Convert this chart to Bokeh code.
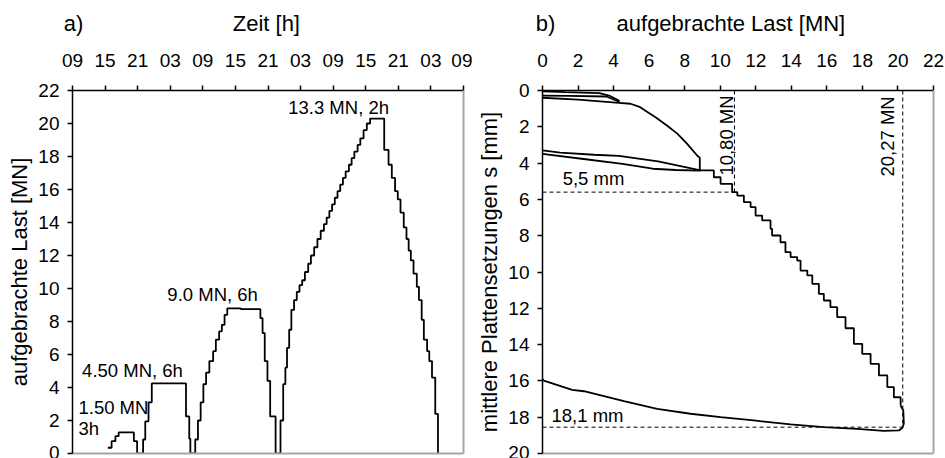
import math
from bokeh.plotting import figure
from bokeh.models import Range1d, FixedTicker, Label, LinearAxis
from bokeh.layouts import row
from bokeh.embed import file_html
from bokeh.resources import INLINE

# ---------------- data: panel a (load vs. time) ----------------
time_ticks = [0, 6, 12, 18, 24, 30, 36, 42, 48, 54, 60, 66, 72]
time_tick_labels = ["09", "15", "21", "03", "09", "15", "21", "03", "09", "15", "21", "03", "09"]

# stepped load history: time [h] at which load changes, new load [MN]
time_h = [6.5, 7.2, 7.9, 8.5, 11.3, 11.9,
          13.0, 13.4, 14.0, 14.6, 20.9, 21.5, 21.7,
          22.6, 23.1, 23.6, 24.1, 24.6, 25.2, 25.9, 26.4, 27.0, 27.5, 28.0, 28.5,
          31.0, 34.6, 35.0, 35.4, 35.9, 36.4, 37.4,
          38.3, 38.8, 39.2, 39.5, 39.9, 40.3, 40.8, 41.3, 41.8, 42.3, 42.8, 43.4,
          43.9, 44.5, 45.1, 45.7, 46.3, 46.8, 47.3, 47.8, 48.3, 48.8, 49.3, 49.8,
          50.3, 50.9, 51.4, 51.9, 52.5, 53.0, 53.6, 54.2, 54.8,
          57.4, 58.2, 58.8, 59.4, 59.9, 60.4, 61.0, 61.5, 61.9, 62.3, 62.8, 63.4,
          63.8, 64.3, 64.7, 65.3, 65.7, 66.2, 66.8, 67.3]
load_mn = [0.35, 0.75, 1.05, 1.28, 0.75, 0.0,
           0.85, 1.95, 3.1, 4.25, 2.25, 0.9, 0.0,
           0.85, 2.0, 3.1, 4.2, 4.9, 5.6, 6.2, 6.9, 7.4, 7.8, 8.4, 8.8,
           8.75, 8.2, 7.3, 5.6, 4.4, 2.25, 0.0,
           2.0, 4.2, 5.2, 6.4, 7.5, 8.7, 9.3, 9.8, 10.2, 10.5, 11.0, 11.5,
           12.0, 12.5, 13.0, 13.5, 13.9, 14.3, 14.7, 15.1, 15.5, 15.9, 16.3, 16.7,
           17.1, 17.5, 17.9, 18.3, 18.7, 19.1, 19.6, 20.0, 20.3,
           18.4, 17.5, 16.7, 15.9, 15.4, 14.6, 13.7, 13.0, 12.3, 11.7, 10.9, 10.1,
           9.3, 8.1, 6.9, 6.2, 5.6, 4.6, 2.4, 0.0]

# ---------------- data: panel b (settlement vs. load) ----------------
load_ticks = [0, 2, 4, 6, 8, 10, 12, 14, 16, 18, 20, 22]
settle_ticks = [0, 2, 4, 6, 8, 10, 12, 14, 16, 18, 20]

virgin_load = [0.0, 1.27, 3.2, 3.8, 4.3, 4.3]
virgin_s = [0.04, 0.09, 0.15, 0.3, 0.55, 0.62]

unload2_load = [4.3, 3.6, 1.5, 0.0]
unload2_s = [0.62, 0.33, 0.3, 0.28]

reload3_load = [0.0, 2.0, 4.3]
reload3_s = [0.4, 0.5, 0.68]

main1_load = [4.3, 4.95, 5.5, 5.9, 6.36, 7.0, 7.6, 8.14, 8.7, 8.85, 8.85]
main1_s = [0.68, 0.73, 0.92, 1.19, 1.47, 1.93, 2.39, 2.94, 3.58, 3.7, 4.4]

unload3_load = [8.9, 7.5, 6.2, 4.5, 2.2, 0.0]
unload3_s = [4.42, 4.38, 4.31, 4.04, 3.76, 3.49]

reload4_load = [0.0, 1.0, 2.9, 4.3, 6.5, 8.9]
reload4_s = [3.3, 3.42, 3.54, 3.6, 3.9, 4.4]

main2_load = [8.9, 9.64, 10.02, 10.67, 10.96, 11.33, 11.71, 11.99, 12.36, 12.83,
              12.92, 13.39, 13.67, 13.96, 14.33, 14.52, 14.9, 15.18, 15.55, 15.83,
              16.2, 16.58, 17.05, 17.52, 17.99, 18.46, 18.93, 19.4, 19.77, 20.15]
main2_s = [4.4, 4.78, 5.14, 5.6, 5.79, 6.15, 6.43, 6.89, 7.16, 7.62,
           7.99, 8.36, 8.91, 9.18, 9.37, 9.92, 10.19, 10.65, 11.2, 11.57,
           11.94, 12.49, 13.1, 13.96, 14.51, 15.06, 15.7, 16.34, 16.9, 17.36]

final_load = [20.15, 20.3, 20.33, 20.24, 20.05, 19.2, 17.71, 15.83, 13.96, 11.89,
              10.02, 8.33, 6.45, 4.58, 2.33, 1.67, 0.07, 0.0]
final_s = [17.36, 17.63, 18.36, 18.6, 18.73, 18.75, 18.64, 18.55, 18.4, 18.18,
           18.0, 17.81, 17.54, 17.12, 16.57, 16.5, 15.98, 15.9]

ref_load = [10.80, 20.27]
ref_settle = [5.6, 18.55]

FONT = "Liberation Sans"
TICK_FS = "19px"
TITLE_FS = "22px"
ANN_FS = "18.5px"
FRAME_GREY = "#a6a6a6"


def style(p):
    p.xgrid.visible = False
    p.ygrid.visible = False
    p.outline_line_color = None
    p.background_fill_color = "white"
    p.border_fill_color = "white"
    for ax in p.axis:
        ax.axis_line_color = "black"
        ax.axis_line_width = 1.5
        ax.major_tick_line_color = "black"
        ax.major_tick_line_width = 1.5
        ax.major_tick_in = 0
        ax.major_tick_out = 5
        ax.minor_tick_line_color = None
        ax.major_label_text_font = FONT
        ax.major_label_text_font_size = TICK_FS
        ax.major_label_text_color = "black"
        ax.axis_label_text_font = FONT
        ax.axis_label_text_font_size = TITLE_FS
        ax.axis_label_text_font_style = "normal"
        ax.axis_label_text_color = "black"
    p.xaxis.major_label_standoff = 19
    p.yaxis.major_label_standoff = 8
    p.yaxis.axis_label_standoff = 3
    # grey frame on the right and bottom
    for side in ("right", "below"):
        ax = LinearAxis(ticker=FixedTicker(ticks=[]), axis_line_color=FRAME_GREY,
                        axis_line_width=2, major_tick_line_color=None,
                        minor_tick_line_color=None, major_label_text_font_size="0px")
        p.add_layout(ax, side)


def top_titles(p, positions, texts):
    # panel letter and x-axis title share one row above the tick labels
    ax = LinearAxis(ticker=FixedTicker(ticks=positions),
                    major_label_overrides={k: t for k, t in zip(positions, texts)},
                    axis_line_color=None, major_tick_line_color=None,
                    minor_tick_line_color=None, major_tick_in=0, major_tick_out=0,
                    major_label_standoff=15, major_label_text_font=FONT,
                    major_label_text_font_size=TITLE_FS, major_label_text_color="black")
    p.add_layout(ax, "above")


def label(p, x, y, text, align="center", angle=0.0, size=ANN_FS):
    p.add_layout(Label(x=x, y=y, text=text, text_font=FONT, text_font_size=size,
                       text_align=align, text_baseline="middle", angle=angle,
                       text_color="black"))


# ---------------- panel a ----------------
pa = figure(width=472, height=458, output_backend="svg", toolbar_location=None,
            x_axis_location="above", x_range=Range1d(0, 72), y_range=Range1d(0, 22),
            min_border_left=72, min_border_right=9, min_border_top=90, min_border_bottom=5)
pa.xaxis.ticker = FixedTicker(ticks=time_ticks)
pa.xaxis.major_label_overrides = {t: l for t, l in zip(time_ticks, time_tick_labels)}
pa.yaxis.ticker = FixedTicker(ticks=list(range(0, 23, 2)))
pa.yaxis.axis_label = "aufgebrachte Last [MN]"
style(pa)
top_titles(pa, [0.2, 35.7], ["a)", "Zeit [h]"])
pa.step(time_h, load_mn, mode="after", line_color="black", line_width=1.8)

label(pa, 49.0, 20.95, "13.3 MN, 2h")
label(pa, 25.8, 9.64, "9.0 MN, 6h")
label(pa, 11.05, 5.03, "4.50 MN, 6h")
label(pa, 1.1, 2.79, "1.50 MN", align="left")
label(pa, 1.1, 1.52, "3h", align="left")

# ---------------- panel b ----------------
pb = figure(width=473, height=458, output_backend="svg", toolbar_location=None,
            x_axis_location="above", x_range=Range1d(0, 22), y_range=Range1d(20, 0),
            min_border_left=70, min_border_right=12, min_border_top=90, min_border_bottom=5)
pb.xaxis.ticker = FixedTicker(ticks=load_ticks)
pb.yaxis.ticker = FixedTicker(ticks=settle_ticks)
pb.yaxis.axis_label = "mittlere Plattensetzungen s [mm]"
style(pb)
top_titles(pb, [0.17, 10.6], ["b)", "aufgebrachte Last [MN]"])

for f, s in zip(ref_load, ref_settle):
    pb.line([f, f], [0, s], line_color="black", line_width=1, line_dash="4 3")
    pb.line([0, f], [s, s], line_color="black", line_width=1, line_dash="4 3")

lw = 1.8
pb.line(virgin_load, virgin_s, line_color="black", line_width=lw)
pb.line(unload2_load, unload2_s, line_color="black", line_width=lw)
pb.line(reload3_load, reload3_s, line_color="black", line_width=lw)
pb.line(main1_load, main1_s, line_color="black", line_width=lw)
pb.line(unload3_load, unload3_s, line_color="black", line_width=lw)
pb.line(reload4_load, reload4_s, line_color="black", line_width=lw)
pb.step(main2_load, main2_s, mode="after", line_color="black", line_width=lw)
pb.line(final_load, final_s, line_color="black", line_width=lw)

label(pb, 10.35, 2.48, "10,80 MN", angle=math.pi / 2)
label(pb, 19.41, 2.53, "20,27 MN", angle=math.pi / 2)
label(pb, 2.87, 4.85, "5,5 mm")
label(pb, 2.53, 17.9, "18,1 mm")

layout = row(pa, pb)
open("out.html", "w").write(file_html(layout, INLINE))
